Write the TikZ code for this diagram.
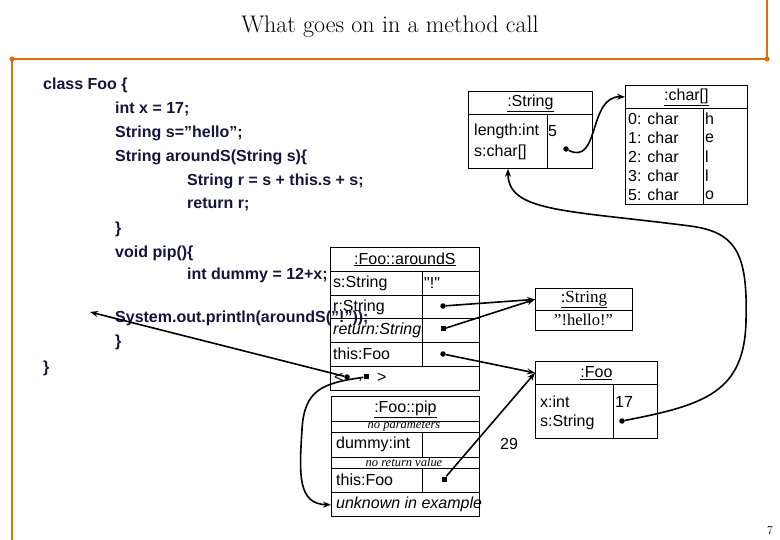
\documentclass[tikz,border=0pt]{standalone}
\usepackage{fontspec}
\newfontfamily\arial{Liberation Sans}
\newfontfamily\tnr{Liberation Serif}
\usetikzlibrary{arrows.meta,calc}
\definecolor{codecol}{RGB}{20,20,60}
\definecolor{orangec}{RGB}{228,108,10}
\tikzset{
  codeline/.style={anchor=west, inner sep=0pt, text=codecol, font=\arial\bfseries\fontsize{16}{18}\selectfont},
  lbl/.style={anchor=west, inner sep=0pt, font=\arial\fontsize{16}{18}\selectfont},
  ilbl/.style={anchor=west, inner sep=0pt, font=\arial\itshape\fontsize{16}{18}\selectfont},
  box/.style={draw, line width=0.8pt, anchor=north west, inner sep=0pt},
  hdr/.style={draw, line width=0.8pt, anchor=north west, inner sep=0pt, font=\arial\fontsize{16}{18}\selectfont},
  shdr/.style={draw, line width=0.8pt, anchor=north west, inner sep=0pt, font=\tnr\fontsize{17}{18}\selectfont},
  note/.style={inner sep=0pt, font=\tnr\itshape\fontsize{12.5}{13}\selectfont},
  sep/.style={line width=0.8pt},
  arr/.style={line width=1.6pt, -{Stealth[length=8pt,width=6pt]}},
  rdot/.style={circle, fill, inner sep=0pt, minimum size=5.5pt},
  sqdot/.style={rectangle, fill, inner sep=0pt, minimum size=5pt},
  frameline/.style={draw=orangec, line width=2.6pt}
}
\begin{document}
\begin{tikzpicture}[x=1pt,y=-1pt]
\useasboundingbox (0,0) rectangle (780,540);
% orange frame
\draw[frameline] (12,540) -- (12,59) -- (767,59) -- (767,0);
\fill[orangec] (12,59) circle[radius=2.6pt] (767,59) circle[radius=2.6pt];
% title and page number
\node[font=\fontsize{24}{26}\selectfont] (title) at (390,27) {What goes on in a method call};
\node[font=\fontsize{12}{12}\selectfont] (pg) at (770,531) {7};
% code
\node[codeline] (c1) at (43,85) {class Foo \{};
\node[codeline] (c2) at (115,109) {int x = 17;};
\node[codeline] (c3) at (115,133) {String s=”hello”;};
\node[codeline] (c4) at (115,157) {String aroundS(String s)\{};
\node[codeline] (c5) at (187,181) {String r = s + this.s + s;};
\node[codeline] (c6) at (187,205) {return r;};
\node[codeline] (c7) at (115,229) {\}};
\node[codeline] (c8) at (115,253) {void pip()\{};
\node[codeline] (c9) at (187,275) {int dummy = 12+x;};
\node[codeline] (c10) at (115,318) {System.out.println(aroundS(”!”));};
\node[codeline] (c11) at (115,342) {\}};
\node[codeline] (c12) at (43,368) {\}};
\coordinate (callsite) at (90,312);
% frame :Foo::aroundS
\node[box, minimum width=149pt, minimum height=143pt] (fa) at (330,247) {};
\node[hdr, minimum width=149pt, minimum height=24pt] (fah) at (330,247) {\underline{:Foo::aroundS}};
\draw[sep] (330,295) -- (479,295) (330,318) -- (479,318) (330,342) -- (479,342) (330,366) -- (479,366);
\draw[sep] (422,271) -- (422,366);
\node[lbl] (fas) at (333,283) {s:String};
\node[lbl] (fasv) at (424,283) {"!"};
\node[lbl] (far) at (333,307) {r:String};
\node[ilbl] (faret) at (333,330) {return:String};
\node[lbl] (fath) at (333,354) {this:Foo};
\node[lbl] (lt) at (334,378) {<};
\node[rdot] (retaddr) at (347,377) {};
\node[lbl] (comma) at (358,380) {,};
\node[sqdot] (retframe) at (366,377) {};
\node[lbl] (gt) at (377,378) {>};
\node[rdot] (rdot1) at (443,306) {};
\node[sqdot] (retsq) at (443,329) {};
\node[rdot] (thisdot) at (443,354) {};
% frame :Foo::pip
\node[box, minimum width=148pt, minimum height=120pt] (fp) at (331,396) {};
\node[hdr, minimum width=148pt, minimum height=25pt] (fph) at (331,396) {\underline{:Foo::pip}};
\draw[sep] (331,432) -- (479,432) (331,457) -- (479,457) (331,468) -- (479,468) (331,492) -- (479,492);
\draw[sep] (422,432) -- (422,457) (422,468) -- (422,492);
\node[note] (np) at (404,426.5) {no parameters};
\node[lbl] (dm) at (336,444) {dummy:int};
\node[note] (nr) at (404,462.5) {no return value};
\node[lbl] (pth) at (336,480) {this:Foo};
\node[ilbl] (unk) at (336,504) {unknown in example};
\node[sqdot] (pthsq) at (444,479) {};
\node[lbl] (v29) at (500,444) {29};
% :String "!hello!"
\node[box, minimum width=97pt, minimum height=42pt] (sh) at (535,288) {};
\node[shdr, minimum width=97pt, minimum height=22pt] (shh) at (535,288) {\underline{:String}};
\node[font=\tnr\fontsize{16.5}{18}\selectfont, inner sep=0pt] (shv) at (583.5,320) {”!hello!”};
% :Foo
\node[box, minimum width=122pt, minimum height=77pt] (foo) at (535,361) {};
\node[hdr, minimum width=122pt, minimum height=23pt] (fooh) at (535,361) {\underline{:Foo}};
\draw[sep] (613,384) -- (613,438);
\node[lbl] (fx) at (540,402) {x:int};
\node[lbl] (fs) at (540,422) {s:String};
\node[lbl] (f17) at (615,402) {17};
\node[rdot] (fsdot) at (622,421) {};
% :String (top)
\node[box, minimum width=124pt, minimum height=77pt] (st) at (468,91) {};
\node[hdr, minimum width=124pt, minimum height=23pt] (sth) at (468,91) {\underline{:String}};
\draw[sep] (547,114) -- (547,168);
\node[lbl] (sl) at (474,131) {length:int};
\node[lbl] (sc) at (474,152) {s:char[]};
\node[lbl] (s5) at (548,131) {5};
\node[rdot] (sdot) at (566,149) {};
% :char[]
\node[box, minimum width=122pt, minimum height=119pt] (ch) at (625,85) {};
\node[hdr, minimum width=122pt, minimum height=23pt] (chh) at (625,85) {\underline{:char[]}};
\draw[sep] (703,108) -- (703,204);
\node[lbl] (r0) at (628,119) {0: char};
\node[lbl] (r1) at (628,138) {1: char};
\node[lbl] (r2) at (628,157) {2: char};
\node[lbl] (r3) at (628,176) {3: char};
\node[lbl] (r5) at (628,195) {5: char};
\node[lbl] (v0) at (705,119) {h};
\node[lbl] (v1) at (705,138) {e};
\node[lbl] (v2) at (705,157) {l};
\node[lbl] (v3) at (705,176) {l};
\node[lbl] (v5) at (705,195) {o};
% connectors
\draw[arr] (sdot) .. controls (600,166) and (588,96) .. (chh.west);
\draw[arr] (fsdot) .. controls (705,405) and (745,392) .. (746,320)
  .. controls (748,252) and (735,232) .. (690,226)
  .. controls (565,210) and (508,212) .. ($(st.south west)+(40,0)$);
\draw[arr] (retaddr) -- (callsite);
\draw[arr] (retframe) .. controls (322,383) and (304,390) .. (302,430)
  .. controls (299,475) and (298,504) .. ($(fp.south west)+(0,-12)$);
\draw[arr] (rdot1) -- (shh.west);
\draw[arr] (retsq) -- (shh.west);
\draw[arr] (thisdot) -- (fooh.west);
\draw[arr] (pthsq) -- (fooh.west);
\end{tikzpicture}
\end{document}
